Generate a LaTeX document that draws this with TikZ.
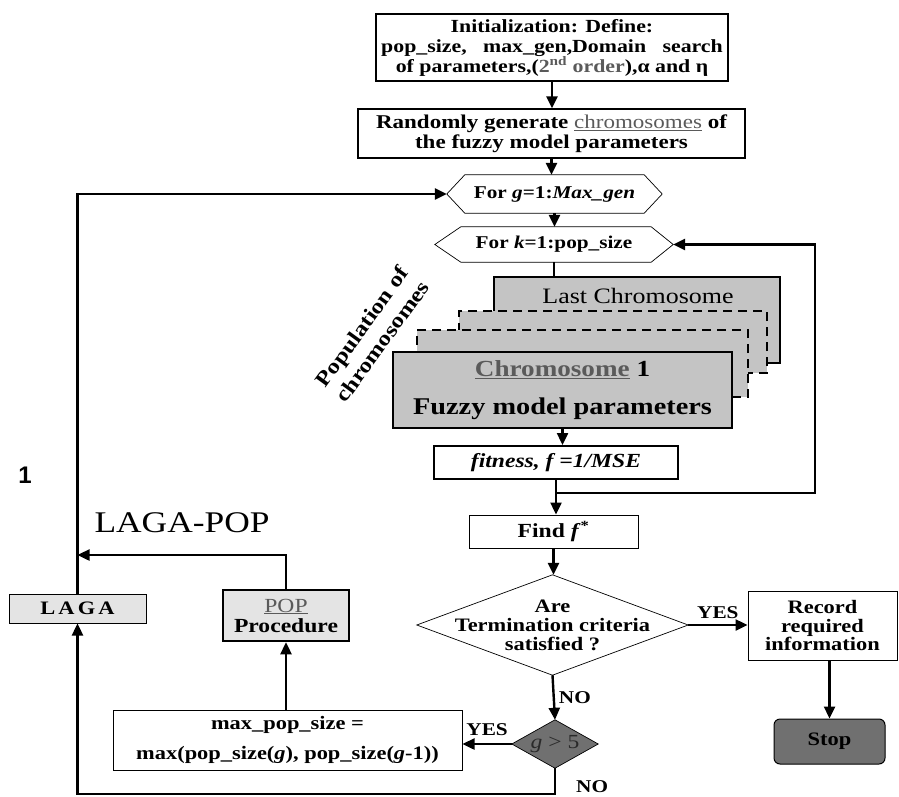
\documentclass[tikz,border=0pt]{standalone}
\usepackage{fontspec}
\setmainfont{Liberation Serif}[FakeStretch=1.18]
\newfontfamily\onesans{Liberation Sans}
\usetikzlibrary{arrows.meta,calc}
\definecolor{chromfill}{HTML}{C4C4C4}
\definecolor{lightfill}{HTML}{E4E4E4}
\definecolor{darkfill}{HTML}{707070}
\definecolor{linkgray}{HTML}{5A5A5A}
\definecolor{gttext}{HTML}{2A2A2A}
\tikzset{
  conn/.style={line width=2.4pt, -{Triangle[length=12pt,width=11pt]}},
  plainline/.style={line width=2.4pt},
  plainbox/.style={draw, line width=1.2pt, inner sep=0pt, align=center},
  shapeonly/.style={inner sep=0pt, align=center},
  thinline/.style={line width=0.7pt},
  chrom/.style={draw, fill=chromfill, line width=2pt, inner sep=0pt},
  lbl/.style={font=\bfseries\fontsize{18}{20}\selectfont, inner sep=1pt},
}
\begin{document}
\begin{tikzpicture}[x=1pt,y=-1pt]
\useasboundingbox (0,0) rectangle (899,797);

% top boxes
\node[plainbox, minimum width=352, minimum height=67, font=\bfseries\fontsize{18.5}{20}\selectfont] (init) at (552,47.5)
  {Initialization: Define:\\ pop\_size,\ \ \ max\_gen,Domain\ \ \ search\\ of parameters,(\textcolor{linkgray}{2\textsuperscript{nd} order}),α and η};
\node[plainbox, minimum width=387, minimum height=49, font=\bfseries\fontsize{19.5}{20}\selectfont] (rand) at (551.5,133.5)
  {Randomly generate \textcolor{linkgray}{\mdseries\underline{chromosomes}} of\\ the fuzzy model parameters};

% hexagons
\node[shapeonly, minimum width=215, minimum height=38, font=\bfseries\fontsize{18}{20}\selectfont] (hg) at (554.5,194)
  {For \textit{g}=1:\textit{Max\_gen}};
\draw[thinline] (hg.west) -- ([xshift=18pt]hg.north west) -- ([xshift=-18pt]hg.north east) -- (hg.east)
  -- ([xshift=-18pt]hg.south east) -- ([xshift=18pt]hg.south west) -- cycle;
\node[shapeonly, minimum width=238, minimum height=35, font=\bfseries\fontsize{18}{20}\selectfont] (hk) at (554,244.5)
  {For \textit{k}=1:pop\_size};
\draw[thinline] (hk.west) -- ([xshift=26pt]hk.north west) -- ([xshift=-22pt]hk.north east) -- (hk.east)
  -- ([xshift=-22pt]hk.south east) -- ([xshift=26pt]hk.south west) -- cycle;

% stacked chromosomes
\node[chrom, minimum width=286, minimum height=86] (back) at (637,320) {};
\node[font=\fontsize{22}{24}\selectfont] (lastlbl) at (638,296) {Last Chromosome};
\node[chrom, dashed, dash pattern=on 9pt off 6pt, minimum width=308, minimum height=62] (dsha) at (613,342) {};
\node[chrom, dashed, dash pattern=on 9pt off 6pt, minimum width=331, minimum height=67] (dshb) at (582.5,363.5) {};
\node[chrom, line width=2.5pt, minimum width=339, minimum height=76, align=center, font=\bfseries\fontsize{24}{38}\selectfont] (front) at (562.5,390)
  {{\fontsize{23}{38}\selectfont\textcolor{linkgray}{\underline{Chromosome}} 1}\\Fuzzy model parameters};
\node[rotate=54, align=center, font=\bfseries\fontsize{21}{25}\selectfont] (poplbl) at (372,334) {Population of\\chromosomes};

% fitness / find
\node[plainbox, line width=2pt, minimum width=244, minimum height=33, font=\bfseries\itshape\fontsize{20}{22}\selectfont] (fit) at (556,462.5)
  {fitness, f =1/MSE};
\node[plainbox, line width=1pt, minimum width=169, minimum height=33, font=\bfseries\fontsize{20}{22}\selectfont] (find) at (553.5,531.5)
  {Find \textit{f}\textsuperscript{*}};

% termination diamond
\node[shapeonly, minimum width=271, minimum height=100, font=\bfseries\fontsize{19}{19}\selectfont] (term) at (552.5,625)
  {Are\\Termination criteria\\satisfied ?};
\draw[thinline] (term.north) -- (term.east) -- (term.south) -- (term.west) -- cycle;

\node[plainbox, line width=1pt, minimum width=149, minimum height=69, font=\bfseries\fontsize{19}{18.5}\selectfont] (record) at (822.5,625.5)
  {Record\\required\\information};
\node[plainbox, line width=1pt, rounded corners=6pt, fill=darkfill, minimum width=111, minimum height=45, font=\bfseries\fontsize{19}{20}\selectfont] (stop) at (829.5,741.5)
  {Stop};

% g > 5 diamond
\node[shapeonly, minimum width=86, minimum height=48, font=\fontsize{20}{22}\selectfont] (gt) at (555,744) {};
\draw[thinline, fill=darkfill] (gt.north) -- (gt.east) -- (gt.south) -- (gt.west) -- cycle;
\node[font=\fontsize{20}{22}\selectfont, text=gttext] (gttxt) at (gt) {\textit{g} > 5};

\node[plainbox, line width=1pt, minimum width=349, minimum height=60, font=\bfseries\fontsize{19}{30}\selectfont] (maxb) at (287.5,740)
  {max\_pop\_size =\\max(pop\_size(\textit{g}), pop\_size(\textit{g}-1))};
\node[plainbox, line width=2.5pt, fill=lightfill, minimum width=126, minimum height=51, font=\bfseries\fontsize{20}{20}\selectfont] (pop) at (286,615.5)
  {\textcolor{linkgray}{\mdseries\underline{POP}}\\Procedure};
\node[plainbox, line width=1pt, fill=lightfill, minimum width=137, minimum height=29, font=\bfseries\fontsize{19}{20}\selectfont] (laga) at (77.5,608.5)
  {L\,A\,G\,A};

\node[anchor=west, font=\fontsize{30}{32}\selectfont] (lagapop) at (91,523) {LAGA-POP};
\node[font=\onesans\bfseries\fontsize{24}{26}\selectfont] (one) at (25,475) {1};

% connectors
\draw[conn] (init.south) -- (init.south |- rand.north);
\draw[conn] (rand.south) -- (rand.south |- hg.north);
\draw[conn] (hg.south) -- (hg.south |- hk.north);
\draw[plainline] (hk.south) -- (hk.south |- back.north);
\draw[conn] (front.south) -- (front.south |- fit.north);
\draw[conn] (fit.south) -- (fit.south |- find.north);
\coordinate (jn) at (556,493);
\coordinate (rc) at (815,493);
\draw[conn] (jn) -- (rc) |- (hk.east);
\draw[conn] (find.south) -- (find.south |- term.north);
\draw[conn] (term.east) -- (record.west |- term.east) node[lbl, midway, above=4pt] {YES};
\draw[conn] (stop.north |- record.south) -- (stop.north);
\draw[conn] (term.south) -- (gt.north) node[lbl, midway, right=3pt] {NO};
\draw[conn] (gt.west) -- (maxb.east |- gt.west) node[lbl, midway, above=6pt] {YES};
\coordinate (bl) at (555,794);
\draw[conn] (gt.south) -- (bl) -| (laga.south);
\node[lbl, anchor=west] (nolbl) at (575,787) {NO};
\draw[conn] (pop.south |- maxb.north) -- (pop.south);
\coordinate (lj) at (77.5,555);
\draw[conn] (pop.north) |- (lj);
\draw[conn] (laga.north) |- (hg.west);
\end{tikzpicture}
\end{document}
